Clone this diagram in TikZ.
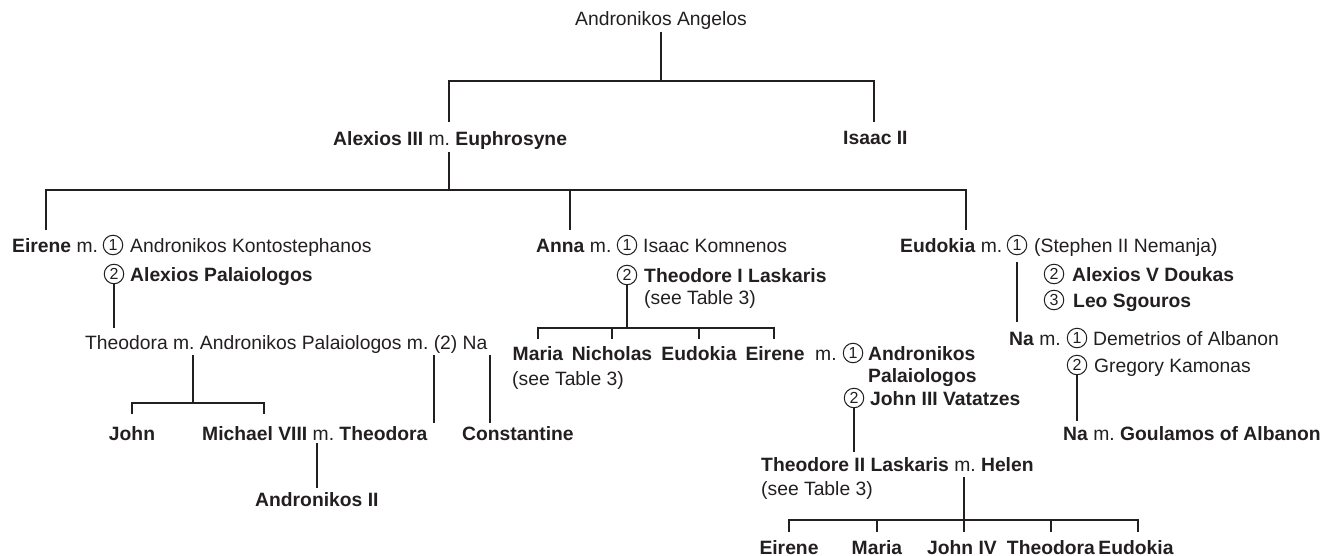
\documentclass[tikz,border=0pt]{standalone}
\usepackage{fontspec}
\setmainfont{Liberation Sans}
\frenchspacing
\definecolor{ink}{HTML}{231F20}
\tikzset{
  txt/.style={inner sep=0pt, anchor=base west, text=ink, font=\fontsize{19.3}{23}\selectfont},
  ctxt/.style={txt, anchor=base},
  num/.style={circle, draw=ink, line width=1pt, inner sep=0pt, minimum size=19.5pt, text=ink, font=\fontsize{16}{16}\selectfont},
  link/.style={draw=ink, line width=1.2pt},
}
\begin{document}
\begin{tikzpicture}[x=1pt,y=-1pt]
\useasboundingbox (0,0) rectangle (1324,556);

% ---------- texts ----------
\node[ctxt] (angelos) at (661,26) {Andronikos Angelos};
\node[txt] (alexios) at (333,146) {\textbf{Alexios III} m. \textbf{Euphrosyne}};
\node[txt] (isaac) at (843,145) {\textbf{Isaac II}};

% Eirene
\node[txt] (eirene) at (12,252) {\textbf{Eirene} m.};
\node[num] (eirene1) at (113,245) {1};
\node[txt] (kontost) at (130,252) {Andronikos Kontostephanos};
\node[num] (eirene2) at (114,274) {2};
\node[txt] (alexpal) at (130,281) {\textbf{Alexios Palaiologos}};
\node[txt] (theodora) at (85,349) {Theodora m. Andronikos Palaiologos m. (2) Na};
\node[ctxt] (john) at (132,440) {\textbf{John}};
\node[txt] (michael) at (202,440) {\textbf{Michael VIII} m. \textbf{Theodora}};
\node[txt] (constantine) at (462,440) {\textbf{Constantine}};
\node[txt] (andII) at (255,506) {\textbf{Andronikos II}};

% Anna
\node[txt] (anna) at (536,252) {\textbf{Anna} m.};
\node[num] (anna1) at (627,245) {1};
\node[txt] (komnenos) at (643,252) {Isaac Komnenos};
\node[num] (anna2) at (627,275) {2};
\node[txt] (laskaris) at (644,282) {\textbf{Theodore I Laskaris}};
\node[txt] (see1) at (644,304) {(see Table 3)};

\node[ctxt] (maria) at (538,360) {\textbf{Maria}};
\node[ctxt] (nicholas) at (612,360) {\textbf{Nicholas}};
\node[ctxt] (eudokiaA) at (699,360) {\textbf{Eudokia}};
\node[ctxt] (eireneB) at (775,360) {\textbf{Eirene}};
\node[txt] (see2) at (512,385) {(see Table 3)};
\node[txt] (eireneBm) at (815,360) {m.};
\node[num] (eireneB1) at (853,353) {1};
\node[txt] (andpal) at (868,360) {\textbf{Andronikos}};
\node[txt] (andpal2) at (868,382) {\textbf{Palaiologos}};
\node[num] (eireneB2) at (854,398) {2};
\node[txt] (vatatzes) at (870,405) {\textbf{John III Vatatzes}};

\node[txt] (theodoreII) at (761,471) {\textbf{Theodore II Laskaris} m. \textbf{Helen}};
\node[txt] (see3) at (761,495) {(see Table 3)};

\node[ctxt] (gEirene) at (789,554) {\textbf{Eirene}};
\node[ctxt] (gMaria) at (877,554) {\textbf{Maria}};
\node[ctxt] (gJohn) at (962,554) {\textbf{John IV}};
\node[ctxt] (gTheodora) at (1051,554) {\textbf{Theodora}};
\node[ctxt] (gEudokia) at (1136,554) {\textbf{Eudokia}};

% Eudokia
\node[txt] (eudokia) at (900,252) {\textbf{Eudokia} m.};
\node[num] (eud1) at (1017,245) {1};
\node[txt] (stephen) at (1034,252) {(Stephen II Nemanja)};
\node[num] (eud2) at (1054,274) {2};
\node[txt] (doukas) at (1072,281) {\textbf{Alexios V Doukas}};
\node[num] (eud3) at (1054,300) {3};
\node[txt] (sgouros) at (1073,307) {\textbf{Leo Sgouros}};

\node[txt] (na1) at (1009,345) {\textbf{Na} m.};
\node[num] (na11) at (1077,338) {1};
\node[txt] (demetrios) at (1093,345) {Demetrios of Albanon};
\node[num] (na12) at (1077,365) {2};
\node[txt] (kamonas) at (1094,372) {Gregory Kamonas};
\node[txt] (na2) at (1063,440) {\textbf{Na} m. \textbf{Goulamos of Albanon}};

% ---------- junction coordinates ----------
\coordinate (g1top) at (661,32);
\coordinate (g1mid) at (661,81);
\coordinate (g1L) at (449,81);
\coordinate (g1Ld) at (449,122);
\coordinate (g1R) at (874,81);
\coordinate (g1Rd) at (874,122);

\coordinate (g2top) at (449,152);
\coordinate (g2mid) at (449,190);
\coordinate (g2L) at (46,190);
\coordinate (g2Ld) at (46,230);
\coordinate (g2M) at (570,190);
\coordinate (g2Md) at (570,230);
\coordinate (g2R) at (966,190);
\coordinate (g2Rd) at (966,230);

\coordinate (thTop) at (114,328);

\coordinate (tpTop) at (193,355);
\coordinate (tpMid) at (193,403);
\coordinate (tpL) at (132,403);
\coordinate (tpLd) at (132,414);
\coordinate (tpR) at (264,403);
\coordinate (tpRd) at (264,414);
\coordinate (nwTop) at (434,355);
\coordinate (nwBot) at (434,423);
\coordinate (naTop) at (490,355);
\coordinate (naBot) at (490,423);
\coordinate (miTop) at (317,443);
\coordinate (miBot) at (317,488);

\coordinate (anMid) at (627,328);
\coordinate (anL) at (538,328);
\coordinate (anLd) at (538,339);
\coordinate (an2) at (612,328);
\coordinate (an2d) at (612,339);
\coordinate (an3) at (699,328);
\coordinate (an3d) at (699,339);
\coordinate (anR) at (774,328);
\coordinate (anRd) at (774,339);

\coordinate (vaBot) at (854,452);

\coordinate (heTop) at (964,477);
\coordinate (heL) at (789,520);
\coordinate (heLd) at (789,532);
\coordinate (he2) at (877,520);
\coordinate (he2d) at (877,532);
\coordinate (he3d) at (964,532);
\coordinate (he4) at (1051,520);
\coordinate (he4d) at (1051,532);
\coordinate (heR) at (1138,520);
\coordinate (heRd) at (1138,532);

\coordinate (euTop) at (1017,262);
\coordinate (euBot) at (1017,322);
\coordinate (naBot2) at (1077,421);

% ---------- connectors ----------
\draw[link] (g1top) -- (g1mid);
\draw[link] (g1Ld) -- (g1L) -- (g1R) -- (g1Rd);

\draw[link] (g2top) -- (g2mid);
\draw[link] (g2Ld) -- (g2L) -- (g2R) -- (g2Rd);
\draw[link] (g2M) -- (g2Md);

\draw[link] (eirene2.south) -- (thTop);
\draw[link] (tpTop) -- (tpMid);
\draw[link] (tpLd) -- (tpL) -- (tpR) -- (tpRd);
\draw[link] (nwTop) -- (nwBot);
\draw[link] (naTop) -- (naBot);
\draw[link] (miTop) -- (miBot);

\draw[link] (anna2.south) -- (anMid);
\draw[link] (anLd) -- (anL) -- (anR) -- (anRd);
\draw[link] (an2) -- (an2d);
\draw[link] (an3) -- (an3d);

\draw[link] (eireneB2.south) -- (vaBot);

\draw[link] (heTop) -- (he3d);
\draw[link] (heLd) -- (heL) -- (heR) -- (heRd);
\draw[link] (he2) -- (he2d);
\draw[link] (he4) -- (he4d);

\draw[link] (euTop) -- (euBot);
\draw[link] (na12.south) -- (naBot2);
\end{tikzpicture}
\end{document}
